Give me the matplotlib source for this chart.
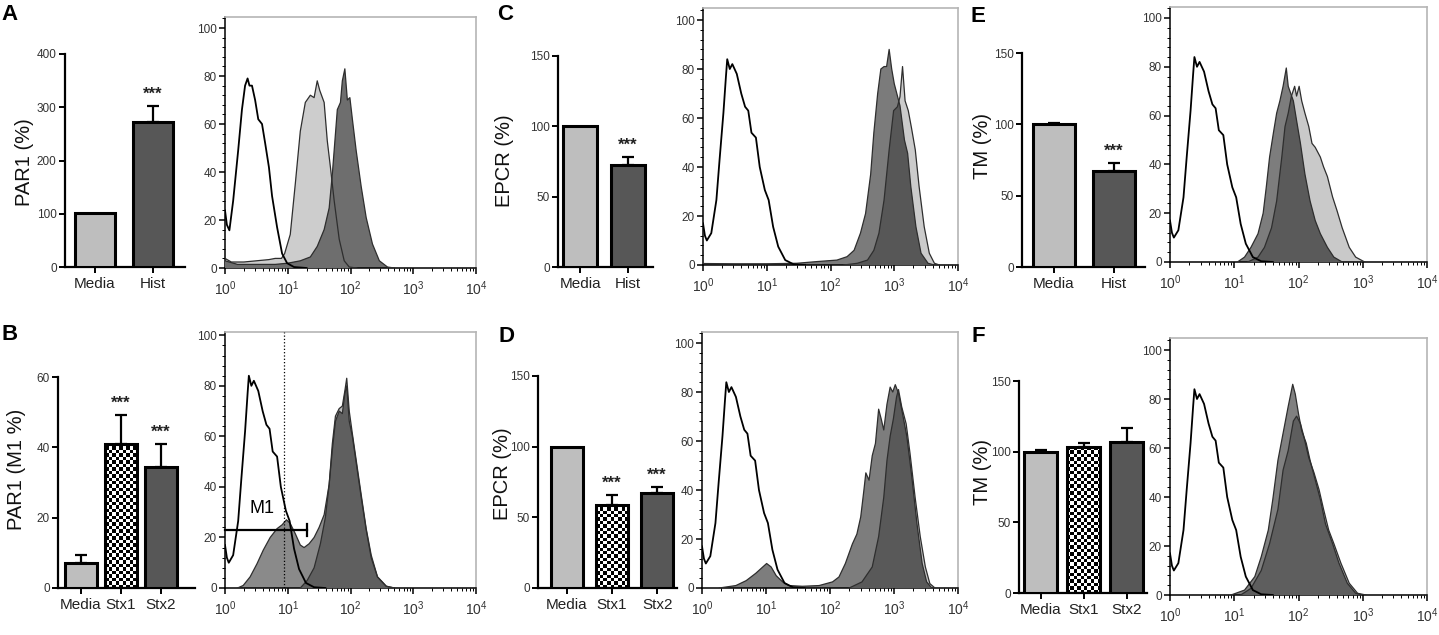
import numpy as np
import matplotlib
matplotlib.use("Agg")
import matplotlib.pyplot as plt
from matplotlib.patches import Polygon
from matplotlib.ticker import MultipleLocator, FixedLocator, NullFormatter

plt.rcParams['font.family'] = ['Liberation Sans', 'DejaVu Sans']
plt.rcParams['mathtext.fontset'] = 'custom'
plt.rcParams['mathtext.rm'] = 'Liberation Sans'
plt.rcParams['mathtext.it'] = 'Liberation Sans:italic'
plt.rcParams['mathtext.bf'] = 'Liberation Sans:bold'

W, H = 1439, 635

# ---------------- bar data ----------------
groups_hist = ['Media', 'Hist']
groups_stx = ['Media', 'Stx1', 'Stx2']

par1_hist = [102, 272]
par1_hist_err = [0, 30]
par1_stx = [7, 41, 34.5]
par1_stx_err = [2.3, 8.2, 6.5]

epcr_hist = [100, 72.5]
epcr_hist_err = [0, 6]
epcr_stx = [100, 59, 67]
epcr_stx_err = [0, 6.5, 4.5]

tm_hist = [100, 67]
tm_hist_err = [1, 6]
tm_stx = [100, 103, 107]
tm_stx_err = [1.5, 3, 10]

# ---------------- flow histograms (x in decades, y in % of max) ----------------
iso_a_x = [0.0, 0.03, 0.07, 0.13, 0.21, 0.27, 0.32, 0.36, 0.39, 0.43, 0.48, 0.53,
           0.59, 0.64, 0.70, 0.75, 0.83, 0.91, 0.99, 1.10, 1.30]
iso_a_y = [24, 18, 15.7, 28, 49, 66, 76, 79, 76, 76, 70, 62,
           60, 52, 42, 30, 17, 6, 2, 0.4, 0]

iso_x = [0.0, 0.03, 0.06, 0.13, 0.21, 0.26, 0.32, 0.36, 0.38, 0.42, 0.46, 0.53,
         0.60, 0.66, 0.71, 0.76, 0.83, 0.89, 0.97, 1.03, 1.10, 1.18, 1.29, 1.42, 1.60]
iso_y = [17, 12, 10, 13, 26.5, 43, 62, 77, 84, 80, 82, 78,
         70, 64.6, 63, 54, 52, 40, 30.6, 26.5, 15.6, 7.5, 2, 0.3, 0]

# A: media (light) and histone (dark)
a_media_x = [0.0, 0.1, 0.3, 0.5, 0.7, 0.8, 0.9, 0.95, 1.04, 1.12, 1.2, 1.28, 1.36,
             1.42, 1.47, 1.51, 1.58, 1.63, 1.68, 1.74, 1.82, 1.9, 1.98, 2.1]
a_media_y = [4, 2.5, 2.5, 3, 3.5, 4, 4, 6, 14, 35, 57, 69, 72,
             71, 78, 74, 69, 53, 42, 28, 12, 3, 0.4, 0]
a_hist_x = [0.0, 0.2, 0.5, 0.8, 1.0, 1.2, 1.36, 1.47, 1.58, 1.66, 1.71, 1.79, 1.84,
            1.87, 1.91, 1.95, 1.99, 2.03, 2.09, 2.17, 2.25, 2.35, 2.46, 2.59, 2.7]
a_hist_y = [3, 1.5, 1.5, 1.5, 2, 3, 4.6, 9, 16, 25, 39, 66, 69,
            78, 83, 70, 71, 62, 49, 34, 21, 10, 3, 0.4, 0]

# B: media and Stx (bimodal)
b_media_x = [1.2, 1.31, 1.42, 1.52, 1.6, 1.66, 1.71, 1.76, 1.82, 1.87, 1.91, 1.94,
             1.98, 2.03, 2.1, 2.17, 2.25, 2.33, 2.43, 2.57, 2.7]
b_media_y = [0, 3, 8, 17.5, 28, 41, 57, 68, 71, 72, 78, 83,
             70, 61, 49, 37, 23.5, 13, 4.4, 0.7, 0]
b_stx_x = [0.2, 0.29, 0.4, 0.51, 0.61, 0.72, 0.83, 0.91, 0.98, 1.04, 1.12, 1.2, 1.26,
           1.34, 1.42, 1.5, 1.58, 1.66, 1.71, 1.76, 1.82, 1.87, 1.91, 1.94, 1.98,
           2.03, 2.1, 2.17, 2.25, 2.33, 2.43, 2.57, 2.7]
b_stx_y = [0, 1, 4.4, 9.6, 15, 20, 23.5, 25, 27, 25.5, 21.5, 17, 16,
           17.5, 20, 24, 29, 41, 54.5, 66, 70, 69, 77, 80, 66,
           60, 48, 36, 23, 12, 4.4, 0.7, 0]
m1_gate = [1, 20, 23]
m1_threshold = 8.7

# C: media (light) and histone (mid)
c_media_x = [2.21, 2.42, 2.58, 2.68, 2.76, 2.84, 2.92, 2.99, 3.05, 3.09, 3.13, 3.17,
             3.22, 3.27, 3.33, 3.39, 3.47, 3.55, 3.63, 3.71]
c_media_y = [0, 0.7, 2, 6, 13, 26.5, 47, 63, 64.6, 68.7, 81, 67,
             63, 56, 47, 32, 15.6, 4.8, 0.7, 0]
c_hist_x = [0.0, 0.5, 1.0, 1.47, 1.79, 2.1, 2.26, 2.37, 2.47, 2.55, 2.63, 2.68, 2.74,
            2.79, 2.84, 2.88, 2.92, 2.96, 3.0, 3.04, 3.09, 3.16, 3.21, 3.26, 3.34,
            3.42, 3.53, 3.63]
c_hist_y = [0.6, 0.5, 0.5, 0.7, 1.4, 2, 3.4, 6, 13, 21, 37, 54, 70,
            80, 81, 81, 88, 80, 74, 70, 65, 51, 45.6, 32, 15.6,
            4.8, 0.7, 0]

# D: media (light) and Stx (mid)
d_media_x = [2.3, 2.5, 2.66, 2.76, 2.84, 2.89, 2.94, 2.99, 3.04, 3.07, 3.12, 3.19,
             3.25, 3.33, 3.41, 3.49, 3.56, 3.64]
d_media_y = [0, 2.5, 8.6, 21, 37, 52, 62, 69, 78, 81, 74, 67,
             55, 37, 21, 8.6, 1.8, 0]
d_stx_x = [0.27, 0.53, 0.69, 0.84, 0.95, 1.01, 1.08, 1.16, 1.26, 1.36, 1.57, 1.83,
           2.04, 2.14, 2.24, 2.35, 2.42, 2.48, 2.53, 2.56, 2.61, 2.66, 2.71, 2.76,
           2.8, 2.84, 2.89, 2.94, 2.98, 3.02, 3.07, 3.12, 3.2, 3.28, 3.36, 3.44,
           3.51, 3.59]
d_stx_y = [0, 1, 3, 6, 8.6, 10, 8.6, 5, 2.5, 1, 0.7, 1,
           2.5, 4.5, 10, 18, 22, 29, 40, 47, 44, 54, 59, 73,
           69, 64.5, 75, 82, 80, 83, 79.5, 73, 62, 45, 26, 10,
           2.5, 0]

# E: media (light) and histone (mid)
e_media_x = [1.21, 1.37, 1.47, 1.58, 1.66, 1.74, 1.79, 1.84, 1.89, 1.94, 1.97, 2.01,
             2.05, 2.1, 2.16, 2.21, 2.26, 2.34, 2.39, 2.45, 2.53, 2.6, 2.68, 2.79,
             2.89, 3.03]
e_media_y = [0, 2, 6, 14, 25, 43, 55.5, 61, 68, 72, 68, 72,
             66, 61, 55.5, 48.6, 47, 43, 39, 35, 26.7, 21, 14, 6,
             2, 0]
e_hist_x = [1.05, 1.16, 1.26, 1.37, 1.45, 1.5, 1.55, 1.61, 1.66, 1.71, 1.76, 1.81,
            1.84, 1.88, 1.92, 1.97, 2.03, 2.1, 2.18, 2.26, 2.34, 2.45, 2.55, 2.68]
e_hist_y = [0, 2, 6, 11.6, 20, 31, 43, 53, 61, 66, 72, 79.5,
            72, 69, 66, 58, 48.6, 36, 25, 17, 11.6, 6, 2, 0]

# F: media (light) and Stx (mid)
f_media_x = [1.1, 1.26, 1.42, 1.55, 1.68, 1.76, 1.84, 1.92, 1.97, 2.03, 2.08, 2.16,
             2.24, 2.32, 2.39, 2.47, 2.55, 2.66, 2.79, 2.92, 3.05]
f_media_y = [0, 2.7, 10, 21, 35, 51, 59, 71, 73, 70, 65, 56,
             50, 43, 35, 26.5, 21, 13, 4.8, 0.7, 0]
f_stx_x = [0.95, 1.16, 1.32, 1.42, 1.53, 1.6, 1.68, 1.76, 1.84, 1.91, 1.95, 2.0,
           2.05, 2.12, 2.18, 2.26, 2.34, 2.42, 2.53, 2.63, 2.76, 2.89, 3.0]
f_stx_y = [0, 2, 7.5, 15.6, 26.5, 39, 55, 66, 77, 86, 82, 74,
           67, 62, 55, 47, 39, 29, 21, 13, 4.8, 0.7, 0]


def rect(l, t, r, b):
    return [l / W, 1 - b / H, (r - l) / W, (b - t) / H]


LIGHT_BAR = '#bebebe'
DARK_BAR = '#575757'


def bar_panel(fig, box, labels, vals, errs, styles, xlim, width, ylim, ystep,
              ylabel, ylab_xy, letter, letter_xy, stars):
    ax = fig.add_axes(rect(*box))
    ax.set_xlim(*xlim)
    ax.set_ylim(*ylim)
    for s in ['top', 'right']:
        ax.spines[s].set_visible(False)
    for s in ['left', 'bottom']:
        ax.spines[s].set_linewidth(1.6)
    ax.yaxis.set_major_locator(MultipleLocator(ystep))
    ax.tick_params(direction='out', length=4, width=1.4, labelsize=8.5,
                   labelcolor='#333333', pad=2)
    ax.tick_params(axis='x', labelsize=11, labelcolor='#222222', pad=3)
    xs = np.arange(len(vals))
    ax.set_xticks(xs)
    ax.set_xticklabels(labels)
    for i, (v, e, st) in enumerate(zip(vals, errs, styles)):
        if e > 0:
            ax.errorbar(i, v, yerr=[[0], [e]], fmt='none', ecolor='black',
                        elinewidth=1.6, capsize=4.5, capthick=1.6, zorder=4,
                        clip_on=False)
        if st == 'check':
            x0, x1 = i - width / 2, i + width / 2
            (px0, py0), (px1, py1) = ax.transData.transform([(x0, 0), (x1, v)])
            nx = max(1, int(round((px1 - px0) / 3.4)))
            ny = max(1, int(round((py1 - py0) / 3.4)))
            board = np.indices((ny, nx)).sum(axis=0) % 2
            im = ax.imshow(board, cmap='gray', vmin=0, vmax=1, origin='lower',
                           extent=(x0, x1, 0, v), aspect='auto',
                           interpolation='nearest', zorder=2)
            bar = ax.bar(i, v, width, facecolor='none', edgecolor='black',
                         linewidth=2.2, zorder=3)[0]
            im.set_clip_path(bar)
        else:
            color = LIGHT_BAR if st == 'light' else DARK_BAR
            ax.bar(i, v, width, facecolor=color, edgecolor='black',
                   linewidth=2.2, zorder=3)
        if stars[i]:
            ax.annotate(stars[i], (i, v + e), xytext=(0, 3), textcoords='offset points',
                        ha='center', va='bottom', fontsize=12, fontweight='bold',
                        color='#222222')
    ax.set_xlim(*xlim)
    ax.set_ylim(*ylim)
    fig.text(ylab_xy[0] / W, 1 - ylab_xy[1] / H, ylabel, rotation=90,
             ha='center', va='center', fontsize=14.5, color='#111111')
    fig.text(letter_xy[0] / W, 1 - letter_xy[1] / H, letter, ha='center',
             va='center', fontsize=16, fontweight='bold')
    return ax


def curve_patch(ax, xs, ys, **kw):
    x = 10.0 ** np.asarray(xs, float)
    y = np.asarray(ys, float)
    verts = np.column_stack([np.r_[x, x[-1], x[0]], np.r_[y, 0, 0]])
    p = Polygon(verts, closed=True, **kw)
    ax.add_patch(p)
    return p


def hist_panel(fig, box, ytop, light, mid, colors, iso):
    ax = fig.add_axes(rect(*box))
    ax.set_xscale('log')
    ax.set_xlim(1, 1e4)
    ax.set_ylim(0, ytop)
    c_light, c_mid, c_over = colors
    curve_patch(ax, light[0], light[1], facecolor=c_light, edgecolor='none', zorder=1)
    p_mid = curve_patch(ax, mid[0], mid[1], facecolor=c_mid,
                        edgecolor='none', zorder=2)
    over = curve_patch(ax, light[0], light[1], facecolor=c_over,
                       edgecolor='none', zorder=3)
    over.set_clip_path(p_mid)
    for cx, cy in [light, mid]:
        ax.plot(10.0 ** np.asarray(cx), cy, color='#2e2e2e', lw=0.9, zorder=4)
    ax.plot(10.0 ** np.asarray(iso[0]), iso[1], color='black', lw=1.3, zorder=5)

    for s in ['top', 'right']:
        ax.spines[s].set_color('#b5b5b5')
        ax.spines[s].set_linewidth(1.2)
    for s in ['left', 'bottom']:
        ax.spines[s].set_linewidth(1.1)
    ax.xaxis.set_major_locator(FixedLocator([1, 10, 100, 1000, 10000]))
    ax.set_xticklabels([r'$10^{0}$', r'$10^{1}$', r'$10^{2}$', r'$10^{3}$', r'$10^{4}$'])
    minors = [m * 10 ** k for k in range(4) for m in range(2, 10)]
    ax.xaxis.set_minor_locator(FixedLocator(minors))
    ax.xaxis.set_minor_formatter(NullFormatter())
    ax.yaxis.set_major_locator(MultipleLocator(20))
    ax.yaxis.set_minor_locator(MultipleLocator(4))
    ax.tick_params(which='major', direction='out', length=4, width=1.1,
                   labelsize=8.5, labelcolor='#333333', pad=2)
    ax.tick_params(which='minor', direction='out', length=2, width=0.7)
    ax.tick_params(axis='x', which='major', labelsize=10, pad=4)
    return ax


fig = plt.figure(figsize=(W / 100, H / 100), dpi=100)

# ---- A ----
bar_panel(fig, (65, 54, 185, 267), groups_hist, par1_hist, par1_hist_err,
          ['light', 'dark'], (-0.517, 1.55), 0.69, (0, 400), 100,
          'PAR1 (%)', (24, 162), 'A', (10, 15), ['', '***'])
hist_panel(fig, (225, 17, 476, 268), 104.6, (a_media_x, a_media_y),
           (a_hist_x, a_hist_y), ('#cdcdcd', '#6e6e6e', '#6e6e6e'),
           (iso_a_x, iso_a_y))

# ---- B ----
bar_panel(fig, (58, 377, 195, 588), groups_stx, par1_stx, par1_stx_err,
          ['light', 'check', 'dark'], (-0.575, 2.85), 0.8, (0, 60), 20,
          'PAR1 (M1 %)', (17, 469), 'B', (10, 335), ['', '***', '***'])
axb = hist_panel(fig, (225, 332, 476, 588), 101.3, (b_media_x, b_media_y),
                 (b_stx_x, b_stx_y), ('#b8b8b8', '#8a8a8a', '#5f5f5f'),
                 (iso_x, iso_y))
axb.axvline(m1_threshold, color='black', lw=0.9, ls=':', zorder=6)
axb.plot(m1_gate[:2], [m1_gate[2]] * 2, color='black', lw=1.6, zorder=7, clip_on=False)
axb.plot([m1_gate[1]] * 2, [m1_gate[2] - 2.5, m1_gate[2] + 2.5], color='black',
         lw=1.6, zorder=7)
axb.text(10 ** 0.59, 31.6, 'M1', ha='center', va='center', fontsize=13, zorder=8)

# ---- C ----
bar_panel(fig, (558, 56, 653, 267), groups_hist, epcr_hist, epcr_hist_err,
          ['light', 'dark'], (-0.46, 1.52), 0.72, (0, 150), 50,
          'EPCR (%)', (505, 161), 'C', (505, 15), ['', '***'])
hist_panel(fig, (703, 8, 958, 265), 104.9, (c_media_x, c_media_y),
           (c_hist_x, c_hist_y), ('#cbcbcb', '#7b7b7b', '#575757'),
           (iso_x, iso_y))

# ---- D ----
bar_panel(fig, (538, 376, 677, 588), groups_stx, epcr_stx, epcr_stx_err,
          ['light', 'check', 'dark'], (-0.64, 2.44), 0.71, (0, 150), 50,
          'EPCR (%)', (503, 474), 'D', (506, 336), ['', '***', '***'])
hist_panel(fig, (702, 332, 958, 588), 104.5, (d_media_x, d_media_y),
           (d_stx_x, d_stx_y), ('#c4c4c4', '#7d7d7d', '#595959'),
           (iso_x, iso_y))

# ---- E ----
bar_panel(fig, (1022, 53, 1145, 267), groups_hist, tm_hist, tm_hist_err,
          ['light', 'dark'], (-0.53, 1.52), 0.7, (0, 150), 50,
          'TM (%)', (982, 146), 'E', (978, 16), ['', '***'])
hist_panel(fig, (1170, 7, 1427, 262), 104.5, (e_media_x, e_media_y),
           (e_hist_x, e_hist_y), ('#c9c9c9', '#7d7d7d', '#5a5a5a'),
           (iso_x, iso_y))

# ---- F ----
bar_panel(fig, (1019, 381, 1147, 593), groups_stx, tm_stx, tm_stx_err,
          ['light', 'check', 'dark'], (-0.51, 2.47), 0.77, (0, 150), 50,
          'TM (%)', (982, 472), 'F', (978, 336), ['', '', ''])
hist_panel(fig, (1170, 338, 1427, 595), 104.9, (f_media_x, f_media_y),
           (f_stx_x, f_stx_y), ('#a9a9a9', '#808080', '#5e5e5e'),
           (iso_x, iso_y))

fig.savefig('out.png', dpi=100)
